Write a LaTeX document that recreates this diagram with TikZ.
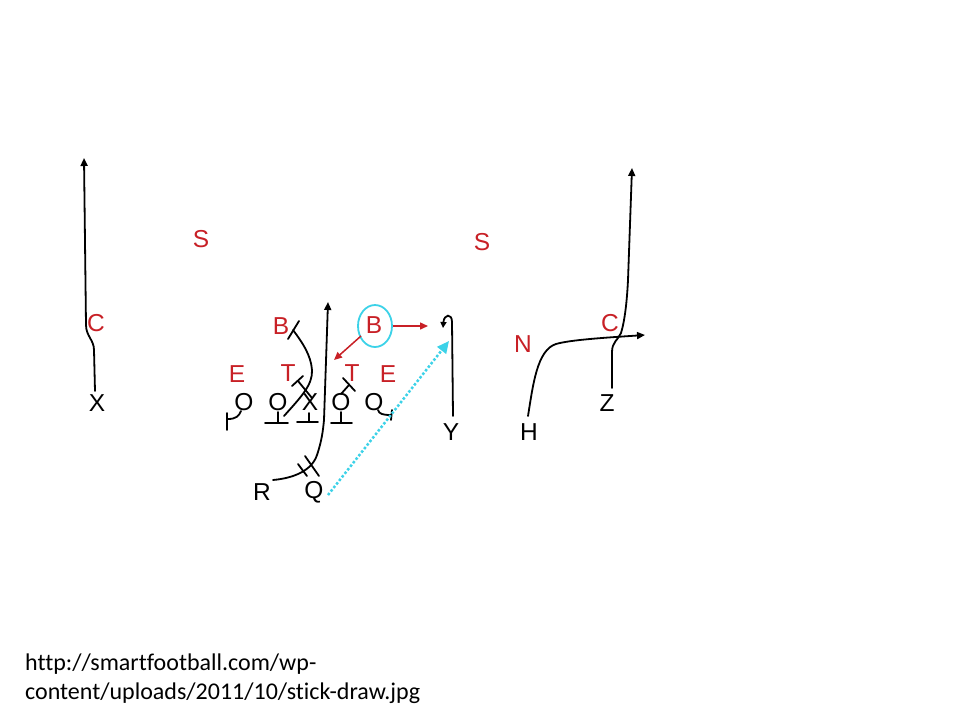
\documentclass[tikz,border=0pt]{standalone}
\usepackage{fontspec}
\setmainfont{Liberation Sans}
\newfontfamily\calib[Ligatures=NoCommon]{Carlito}
\usetikzlibrary{arrows.meta,shapes.geometric}
\definecolor{pred}{RGB}{200,32,38}
\definecolor{pcyan}{RGB}{60,210,232}
\begin{document}
\begin{tikzpicture}[x=1pt,y=-1pt,
  lbl/.style={font=\fontsize{24.5}{24.5}\selectfont, inner sep=0pt},
  off/.style={lbl,text=black},
  def/.style={lbl,text=pred},
  route/.style={line width=1.8pt, line cap=round, draw=black},
  tipb/.style={-{Triangle[length=8pt,width=7pt]}},
  redarrow/.style={line width=1.5pt, draw=pred, -{Triangle[length=8pt,width=7pt]}},
]
\useasboundingbox[fill=white] (0,0) rectangle (960,720);

% offense labels
\node[off] (x) at (97,403) {X};
\node[off] (o1) at (244,402) {O};
\node[off] (o2) at (278,402) {O};
\node[off] (ctr) at (310,402) {X};
\node[off] (o4) at (341,402) {O};
\node[off] (o5) at (374,402) {O};
\node[off] (r) at (262,492) {R};
\node[off] (q) at (314,492) {Q};
\node[off] (y) at (451,432) {Y};
\node[off] (h) at (529,432) {H};
\node[off] (z) at (607,403) {Z};

% defense labels
\node[def] (cl) at (96,323) {C};
\node[def] (s1) at (201,239) {S};
\node[def] (s2) at (482,242) {S};
\node[def] (b1) at (281,326) {B};
\node[draw=pcyan, line width=1.8pt, ellipse, minimum width=34pt, minimum height=42pt, inner sep=0pt] (bc) at (375,326) {};
\node[def] (b2) at (374,325) {B};
\node[def] (e1) at (237,374) {E};
\node[def] (t1) at (288,373) {T};
\node[def] (t2) at (352,373) {T};
\node[def] (e2) at (388,374) {E};
\node[def] (n) at (523,344) {N};
\node[def] (cr) at (610,323) {C};

% X route
\draw[route,tipb] (95,391) -- (94,350) .. controls (94,340) and (86,336) .. (86,325) -- (84,158);

% line blocks
\draw[route] (241,411) .. controls (239,416) and (236,419) .. (228,419);
\draw[route] (227,413) -- (227,430);
\draw[route] (278,412) -- (278,423);
\draw[route] (265,423) -- (288,423);
\draw[route] (309,413) -- (309,422);
\draw[route] (297,422) -- (318,422);
\draw[route] (341,412) -- (341,423);
\draw[route] (331,423) -- (352,423);
\draw[route] (378,410) .. controls (379,414) and (383,415) .. (391,415);
\draw[route] (392,410) -- (391,420);
% blocks on tackles
\draw[route] (312,398) -- (298,381);
\draw[route] (292,386) -- (303,376);
\draw[route] (341,394) -- (349,385);
\draw[route] (343,378) -- (355,391);
% guard pull to B
\draw[route] (284,416) .. controls (300,398) and (313,385) .. (312,370) .. controls (311,355) and (302,342) .. (293,330);
\draw[route] (288,339) -- (299,321);

% RB path
\draw[route,tipb] (273,480) .. controls (295,478) and (312,470) .. (317,455) .. controls (322,440) and (323,430) .. (324,420) -- (328,302);
\draw[route] (298,464) -- (307,476);
\draw[route] (305,456) -- (319,476);

% B reactions
\draw[redarrow] (bc.east) -- (428,326);
\draw[redarrow] (361,336) -- (334,360);

% QB throw
\draw[pcyan, line width=2.5pt, dash pattern=on 2.5pt off 2pt, -{Triangle[length=12pt,width=11pt]}] (328,495) -- (449,341);

% Y route
\draw[route, -{Triangle[length=6pt,width=6pt]}] (453,416) -- (452,322) .. controls (452,313) and (444,314) .. (443,328);

% H route
\draw[route,tipb] (528,416) .. controls (533,385) and (537,350) .. (556,344) .. controls (570,340) and (600,338) .. (645,335);

% Z route
\draw[route,tipb] (612,388) -- (612,352) .. controls (612,342) and (618,340) .. (621,333) .. controls (625,320) and (627,300) .. (628,280) -- (632,168);

% source
\node[anchor=base west, font=\calib\fontsize{24}{24}\selectfont, inner sep=0pt] (u1) at (25,670) {http://smartfootball.com/wp-};
\node[anchor=base west, font=\calib\fontsize{24}{24}\selectfont, inner sep=0pt] (u2) at (25,699) {content/uploads/2011/10/stick-draw.jpg};
\end{tikzpicture}
\end{document}
